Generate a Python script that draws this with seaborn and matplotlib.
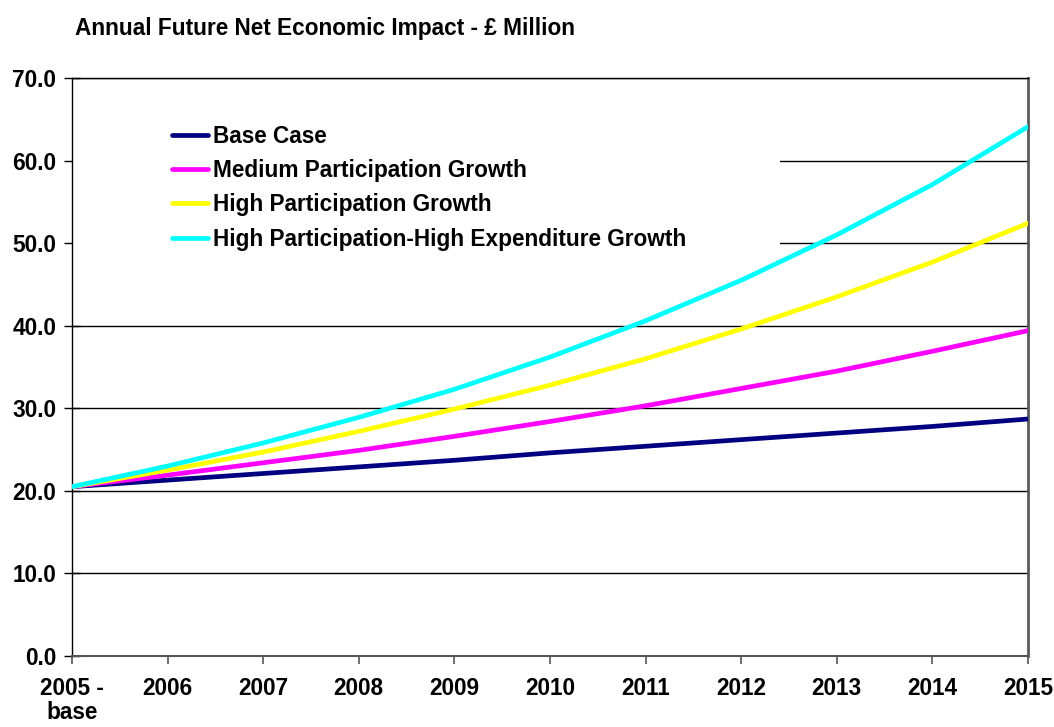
import matplotlib
matplotlib.use("Agg")
import matplotlib.pyplot as plt
from matplotlib.patches import Rectangle
import numpy as np
import pandas as pd
import seaborn as sns

years = ["2005 -\nbase", "2006", "2007", "2008", "2009", "2010",
         "2011", "2012", "2013", "2014", "2015"]
base_case = [20.5, 21.3, 22.1, 22.9, 23.7, 24.6, 25.4, 26.2, 27.0, 27.8, 28.7]
medium_growth = [20.5, 21.9, 23.4, 24.9, 26.6, 28.4, 30.3, 32.4, 34.5, 36.9, 39.4]
high_growth = [20.5, 22.5, 24.7, 27.2, 29.9, 32.8, 36.0, 39.6, 43.5, 47.7, 52.4]
high_high_growth = [20.5, 23.0, 25.8, 28.9, 32.3, 36.2, 40.6, 45.5, 51.0, 57.1, 64.1]

series_names = ["Base Case", "Medium Participation Growth",
                "High Participation Growth",
                "High Participation-High Expenditure Growth"]
series_colors = ["#000080", "#FF00FF", "#FFFF00", "#00FFFF"]

frames = []
for name, vals in zip(series_names,
                      [base_case, medium_growth, high_growth, high_high_growth]):
    frames.append(pd.DataFrame({"pos": np.arange(len(years)),
                                "value": vals, "series": name}))
df = pd.concat(frames, ignore_index=True)

sns.set_style("white")
plt.rcParams["font.family"] = ["Liberation Sans", "DejaVu Sans"]
plt.rcParams["font.weight"] = "bold"
plt.rcParams["text.color"] = "black"
plt.rcParams["xtick.color"] = "black"
plt.rcParams["ytick.color"] = "black"

FS = 16.3

fig = plt.figure(figsize=(10.54, 7.27), dpi=100)
ax = fig.add_axes([0.0683, 0.0977, 0.9070, 0.7950])

ax.set_axisbelow(True)
ax.yaxis.grid(True, color="black", linewidth=1.0)
ax.xaxis.grid(False)

# white panel behind the legend hides the gridlines there
ax.add_patch(Rectangle((0, 0.69), 0.7406, 0.25, transform=ax.transAxes,
                       facecolor="white", edgecolor="none", zorder=0.8))

sns.lineplot(data=df, x="pos", y="value", hue="series",
             hue_order=series_names, palette=series_colors,
             linewidth=3.4, ax=ax, legend=True, zorder=3)

ax.set_xlim(0, len(years) - 1)
ax.set_ylim(0, 70)
ax.set_xticks(np.arange(len(years)))
ax.set_xticklabels(years, fontsize=FS, fontweight="bold", linespacing=1.05,
                   color="black")
ax.set_yticks(np.arange(0, 71, 10))
ax.set_yticklabels([f"{v:.1f}" for v in np.arange(0, 71, 10)],
                   fontsize=FS, fontweight="bold", color="black")
ax.set_xlabel("")
ax.set_ylabel("")

ax.tick_params(axis="x", direction="out", length=6, width=1.2,
               color="#555555", pad=9, bottom=True)
ax.tick_params(axis="y", direction="inout", length=11, width=1.0,
               color="black", pad=6, left=True)

for side in ["left", "top"]:
    ax.spines[side].set_color("black")
    ax.spines[side].set_linewidth(1.0)
ax.spines["bottom"].set_color("#555555")
ax.spines["bottom"].set_linewidth(1.5)
ax.spines["right"].set_color("#5a5a5a")
ax.spines["right"].set_linewidth(2.0)

leg = ax.legend(loc="upper left", bbox_to_anchor=(0.095, 0.935),
                frameon=False, fontsize=FS, handlelength=1.6,
                handletextpad=0.2, labelspacing=0.5, borderaxespad=0)
for txt in leg.get_texts():
    txt.set_fontweight("bold")
    txt.set_color("black")
for ln in leg.get_lines():
    ln.set_linewidth(3.4)
leg.set_zorder(5)

fig.text(0.0712, 0.961, "Annual Future Net Economic Impact - £ Million",
         fontsize=FS, fontweight="bold", ha="left", va="center", color="black")

fig.savefig("out.png", dpi=100, facecolor="white")
